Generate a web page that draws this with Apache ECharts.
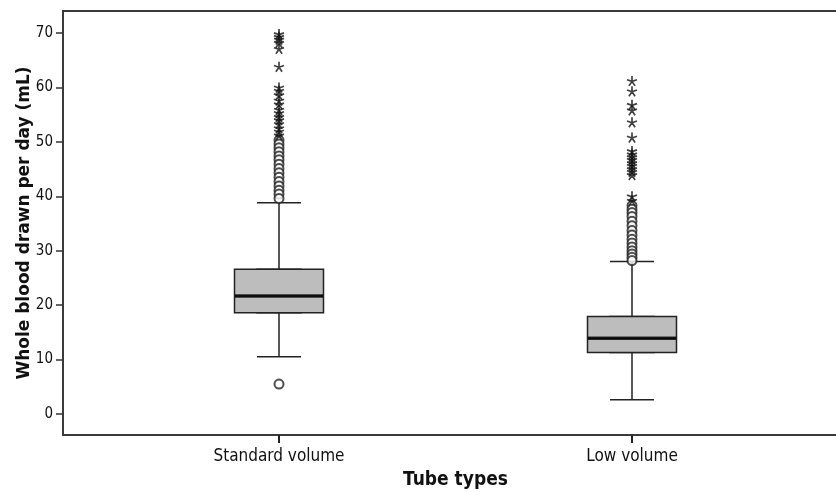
<!DOCTYPE html>
<html lang="en">

<head>
  <meta charset="UTF-8">
  <title>Whole blood drawn per day by tube type</title>
  <script src="https://cdn.jsdelivr.net/npm/echarts@6/dist/echarts.min.js"></script>
</head>

<body style="margin:0;background:#fff;">
  <div id="bloodBox" style="width:836px;height:492px;"></div>
</body>

</html>
<script type="text/javascript">
  // categories and box stats: [low whisker, Q1, median, Q3, high whisker]
  let tubeTypes = ['Standard volume', 'Low volume'];
  let standardStats = [10.5, 18.6, 21.7, 26.6, 38.8];
  let lowStats = [2.6, 11.3, 13.9, 17.9, 28.0];
  // outliers (circles) and extremes (asterisks)
  let standardCircles = [50.3, 49.6, 48.9, 48.2, 47.4, 46.7, 45.9, 45.1, 44.3, 43.5, 42.7, 41.9, 41.1, 40.4, 39.6, 5.5];
  let standardStars = [69.8, 69.3, 68.8, 68.2, 67.1, 63.8, 60.0, 59.4, 58.6, 57.6, 56.9, 55.9, 55.3, 54.6, 54.0, 53.3, 52.5, 51.9, 51.2];
  let lowCircles = [38.3, 37.6, 37.0, 36.3, 35.4, 34.6, 33.7, 32.9, 32.1, 31.4, 30.7, 30.0, 29.4, 28.8, 28.2];
  let lowStars = [61.2, 59.3, 56.8, 55.8, 53.6, 50.8, 48.3, 47.7, 47.2, 46.7, 46.1, 45.6, 45.0, 44.5, 43.9, 40.0, 39.2];
  let yTicks = [0, 10, 20, 30, 40, 50, 60, 70];

  let narrow = "'DejaVu Sans Condensed', 'Liberation Sans', sans-serif";
  let yMin = -3.86, yMax = 74.04;
  let stats = [standardStats, lowStats];

  function points(cat, vals) {
    return vals.map(function (v) { return [cat, v]; });
  }

  let chart = echarts.init(document.getElementById('bloodBox'));
  let option = {
    animation: false,
    backgroundColor: '#fff',
    grid: [
      { left: 63, right: -5, top: 11, bottom: 57, outerBoundsMode: 'none', containLabel: false, show: true, borderColor: '#3a3a3a', borderWidth: 2 },
      { left: 102.5, right: 27.5, top: 11, bottom: 57, outerBoundsMode: 'none', containLabel: false }
    ],
    xAxis: [
      { gridIndex: 0, type: 'value', min: 0, max: 1, show: false },
      {
        gridIndex: 1, type: 'category', data: tubeTypes,
        axisLine: { show: true, onZero: false, lineStyle: { color: '#3a3a3a', width: 2 } },
        axisTick: { show: true, alignWithLabel: true, length: 8, lineStyle: { color: '#222', width: 2 } },
        axisLabel: { margin: 13, color: '#111', fontSize: 17, fontFamily: narrow },
        name: 'Tube types', nameLocation: 'middle', nameGap: 36,
        nameTextStyle: { color: '#111', fontSize: 19, fontWeight: 'bold', fontFamily: narrow }
      },
      { gridIndex: 1, type: 'category', data: tubeTypes, show: false }
    ],
    yAxis: [
      {
        gridIndex: 0, type: 'value', min: yMin, max: yMax,
        axisLine: { show: false },
        splitLine: { show: false },
        axisTick: { show: true, length: 7, customValues: yTicks, lineStyle: { color: '#333', width: 1.5 } },
        axisLabel: { margin: 10, customValues: yTicks, color: '#111', fontSize: 15, fontFamily: narrow },
        name: 'Whole blood drawn per day (mL)', nameLocation: 'middle', nameGap: 30, nameMoveOverlap: false,
        nameTextStyle: { color: '#111', fontSize: 17, fontWeight: 'bold', fontFamily: "'DejaVu Sans', sans-serif" }
      },
      { gridIndex: 1, type: 'value', min: yMin, max: yMax, show: false }
    ],
    series: [
      {
        name: 'whiskers', type: 'boxplot', xAxisIndex: 1, yAxisIndex: 1,
        boxWidth: [44, 44],
        itemStyle: { color: '#bdbdbd', borderColor: '#222', borderWidth: 1.5 },
        data: stats
      },
      {
        name: 'boxes', type: 'boxplot', xAxisIndex: 2, yAxisIndex: 1,
        boxWidth: [89, 89],
        itemStyle: { color: '#bdbdbd', borderColor: '#222', borderWidth: 1.5 },
        data: stats.map(function (s) { return [s[1], s[1], s[2], s[3], s[3]]; })
      },
      {
        name: 'median', type: 'scatter', xAxisIndex: 1, yAxisIndex: 1,
        symbol: 'rect', symbolSize: [88, 3.5],
        itemStyle: { color: '#000' },
        data: stats.map(function (s, i) { return [tubeTypes[i], s[2]]; })
      },
      {
        name: 'outliers', type: 'scatter', xAxisIndex: 1, yAxisIndex: 1,
        symbol: 'emptyCircle', symbolSize: 9,
        itemStyle: { color: '#222', borderWidth: 1.5 },
        data: points(tubeTypes[0], standardCircles).concat(points(tubeTypes[1], lowCircles))
      },
      {
        name: 'extremes', type: 'scatter', xAxisIndex: 1, yAxisIndex: 1,
        symbol: 'path://M0,0L0,-5M0,0L4.76,-1.55M0,0L2.94,4.05M0,0L-2.94,4.05M0,0L-4.76,-1.55',
        symbolSize: [10, 10],
        itemStyle: { color: 'rgba(0,0,0,0)', borderColor: '#111', borderWidth: 1.7 },
        data: points(tubeTypes[0], standardStars).concat(points(tubeTypes[1], lowStars))
      }
    ]
  };
  chart.setOption(option);
</script>
